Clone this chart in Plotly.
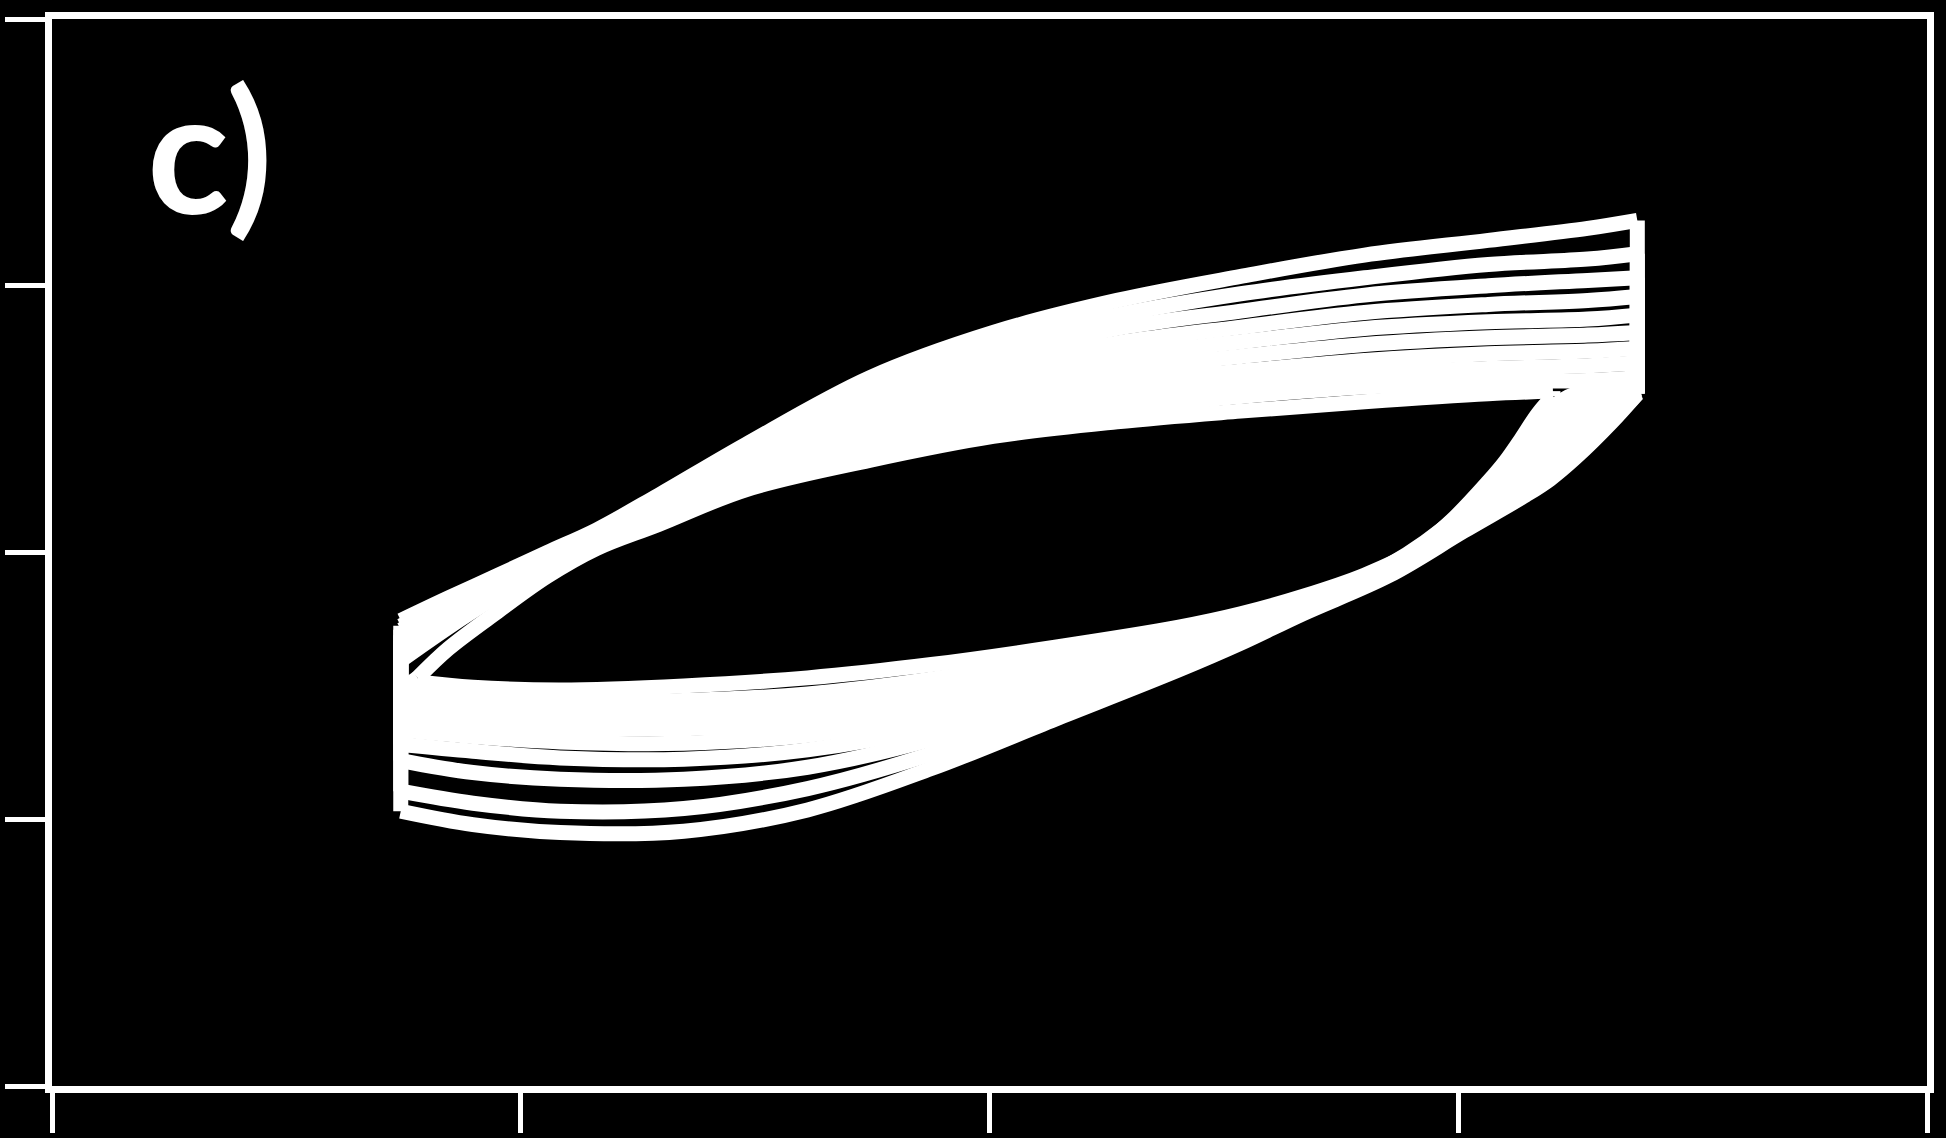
import plotly.graph_objects as go

# deformation (%) at the points read on the loops
strain_up = [0.372, 0.423, 0.476, 0.528, 0.581, 0.647, 0.740, 0.872, 1.004,
             1.136, 1.268, 1.400, 1.532, 1.638, 1.691]
strain_down = [1.691, 1.664, 1.625, 1.598, 1.572, 1.506, 1.427, 1.334, 1.268,
               1.202, 1.070, 0.938, 0.806, 0.674, 0.542, 0.449, 0.372]

# stress (MPa), loading branches (left -> right), one per cycle
up_1 = [-51, -34, -17, 0, 17, 43, 81, 131, 165, 189, 207, 223, 234, 243, 249]
up_2 = [-55, -37, -19, -2, 15, 40, 78, 124, 156, 178, 194, 206, 216, 220, 224]
up_3 = [-58, -40, -21, -4, 13, 37, 74, 118, 147, 168, 181, 193, 200, 204, 206]
up_4 = [-62, -43, -23, -6, 12, 35, 70, 111, 139, 157, 169, 180, 186, 189, 192]
up_5 = [-66, -45, -25, -6, 11, 33, 68, 105, 131, 147, 158, 168, 173, 175, 178]
up_6 = [-69, -48, -27, -7, 10, 31, 65, 98, 122, 137, 147, 156, 161, 163, 165]
up_7 = [-73, -51, -29, -8, 9, 30, 61, 92, 114, 128, 136, 144, 149, 151, 153]
up_8 = [-77, -54, -31, -9, 8, 28, 58, 85, 105, 118, 126, 134, 138, 140, 142]
up_9 = [-81, -56, -32, -10, 7, 26, 55, 78, 96, 108, 117, 124, 128, 129, 131]

# stress (MPa), unloading branches (right -> left)
down_1 = [119, 98, 71, 55, 43, 16, -17, -46, -68, -88, -125, -162, -193, -209, -210, -204, -194]
down_2 = [119, 100, 76, 58, 45, 18, -16, -44, -64, -83, -118, -151, -177, -192, -194, -188, -179]
down_3 = [120, 102, 80, 62, 48, 19, -15, -43, -60, -79, -110, -140, -161, -170, -170, -165, -156]
down_4 = [121, 105, 84, 67, 51, 21, -14, -41, -57, -75, -104, -131, -148, -155, -154, -149, -144]
down_5 = [122, 107, 89, 71, 55, 23, -13, -40, -55, -71, -98, -122, -137, -143, -142, -138, -133]
down_6 = [123, 110, 94, 76, 58, 25, -12, -39, -53, -69, -93, -114, -128, -132, -132, -129, -124]
down_7 = [123, 113, 99, 81, 63, 27, -11, -38, -51, -66, -88, -107, -119, -125, -125, -121, -117]
down_8 = [124, 119, 110, 94, 72, 29, -10, -37, -50, -63, -83, -101, -113, -118, -118, -114, -109]
down_9 = [125, 122, 119, 107, 80, 31, -9, -36, -49, -61, -79, -95, -106, -111, -111, -107, -103]

# last, smaller loop
inner_strain_up = [0.390, 0.423, 0.476, 0.528, 0.581, 0.647, 0.740, 0.872,
                   1.004, 1.136, 1.268, 1.400, 1.532, 1.601]
inner_up = [-94, -72, -44, -18, 3, 21, 47, 69, 87, 98, 106, 113, 119, 121]
inner_strain_down = [1.601, 1.585, 1.567, 1.550, 1.532, 1.493, 1.453, 1.400,
                     1.334, 1.268, 1.202, 1.070, 0.938, 0.806, 0.674, 0.542,
                     0.449, 0.390]
inner_down = [117, 104, 85, 68, 53, 24, 1, -17, -33, -46, -56, -71, -84, -94,
              -100, -103, -101, -97]

fig = go.Figure()


def seg(x, y, shape="spline"):
    fig.add_trace(go.Scatter(x=x, y=y, mode="lines", hoverinfo="skip",
                             line=dict(color="white", width=15, shape=shape)))


loops = [(strain_up, up, strain_down, dn) for up, dn in
         [(up_1, down_1), (up_2, down_2), (up_3, down_3), (up_4, down_4),
          (up_5, down_5), (up_6, down_6), (up_7, down_7), (up_8, down_8),
          (up_9, down_9)]]
loops.append((inner_strain_up, inner_up, inner_strain_down, inner_down))

prev = None
for xu, yu, xd, yd in loops:
    if prev:  # relaxation hold at min strain
        seg([prev[0], xu[0]], [prev[1], yu[0]], "linear")
    seg(xu, yu)
    seg([xu[-1], xd[0]], [yu[-1], yd[0]], "linear")  # hold at max strain
    seg(xd, yd)
    prev = (xd[-1], yd[-1])

ax = dict(showgrid=False, zeroline=False, showticklabels=False,
          ticks="outside", ticklen=40, tickwidth=5, tickcolor="white",
          showline=True, linecolor="white", linewidth=7, mirror=True)
fig.update_layout(
    width=1946, height=1138, showlegend=False,
    paper_bgcolor="black", plot_bgcolor="black",
    margin=dict(l=50, r=15, t=15, b=51),
    xaxis=dict(ax, range=[0, 2], dtick=0.5),
    yaxis=dict(ax, range=[-400, 400], dtick=200),
    annotations=[dict(text="<b>c)</b>", xref="paper", yref="paper",
                      x=0.084, y=0.879, xanchor="center", yanchor="middle",
                      showarrow=False,
                      font=dict(family="Lato", size=170, color="white"))],
)
# page sans marge, fond noir
fig.write_html("out.html", config={"displayModeBar": False},
               post_script="document.body.style.margin='0';"
                           "document.body.style.background='black';"
                           "document.body.style.overflow='hidden';")
